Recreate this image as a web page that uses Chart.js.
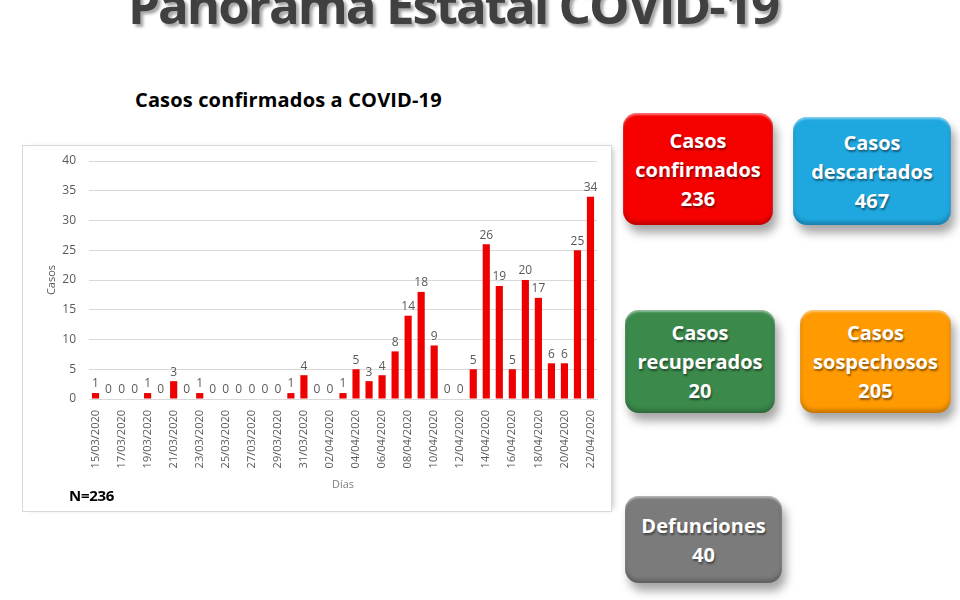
<!DOCTYPE html>
<html>
<head>
<meta charset="utf-8">
<script src="https://cdn.jsdelivr.net/npm/chart.js@4"></script>
<style>
  body { margin: 0; width: 960px; height: 600px; background: #fff; position: relative; overflow: hidden; font-family: "Open Sans", sans-serif; }
  #titulo { position: absolute; left: 0; width: 906px; top: -31px; text-align: center; font-size: 51px; font-weight: bold; color: #404040; letter-spacing: -2px; text-shadow: 3px 3px 3px rgba(0,0,0,0.35); white-space: nowrap; }
  #subtitulo { position: absolute; left: 135px; top: 86px; font-size: 20px; font-weight: bold; color: #000; letter-spacing: 0.15px; }
  #caja { position: absolute; left: 22px; top: 145px; width: 588px; height: 365px; border: 1px solid #d9d9d9; box-shadow: 4px 0 6px -3px rgba(0,0,0,0.25); }
  #grafica { display: block; }
  #n { position: absolute; left: 46px; top: 339px; font-size: 15px; font-weight: bold; letter-spacing: -0.3px; }
  .tarjeta { position: absolute; border-radius: 14px; color: #fff; font-weight: bold; font-size: 20px; line-height: 29px; text-align: center; display: flex; flex-direction: column; justify-content: center; text-shadow: 1px 2px 2px rgba(0,0,0,0.45); box-shadow: 4px 8px 10px rgba(0,0,0,0.35), inset 0 2px 2px rgba(255,255,255,0.45), inset 0 -3px 4px rgba(0,0,0,0.25); }
</style>
</head>
<body>
<div id="titulo">Panorama Estatal COVID-19</div>
<div id="subtitulo">Casos confirmados a COVID-19</div>
<div id="caja">
  <canvas id="grafica" width="588" height="365"></canvas>
  <div id="n">N=236</div>
</div>
<div id="tarjetas"></div>
<script>
const fechas = ['15/03/2020','16/03/2020','17/03/2020','18/03/2020','19/03/2020','20/03/2020','21/03/2020','22/03/2020','23/03/2020','24/03/2020','25/03/2020','26/03/2020','27/03/2020','28/03/2020','29/03/2020','30/03/2020','31/03/2020','01/04/2020','02/04/2020','03/04/2020','04/04/2020','05/04/2020','06/04/2020','07/04/2020','08/04/2020','09/04/2020','10/04/2020','11/04/2020','12/04/2020','13/04/2020','14/04/2020','15/04/2020','16/04/2020','17/04/2020','18/04/2020','19/04/2020','20/04/2020','21/04/2020','22/04/2020'];
const casos = [1,0,0,0,1,0,3,0,1,0,0,0,0,0,0,1,4,0,0,1,5,3,4,8,14,18,9,0,0,5,26,19,5,20,17,6,6,25,34];
const tarjetasNombres = ['Casos<br>confirmados', 'Casos<br>descartados', 'Casos<br>recuperados', 'Casos<br>sospechosos', 'Defunciones'];
const tarjetasValores = [236, 467, 20, 205, 40];
const tarjetasColores = ['#f70000', '#1fa8e0', '#3b8a4c', '#ff9a00', '#7b7b7b'];
const tarjetasPos = [[623,113,150,112],[793,117,158,108],[625,310,150,103],[800,310,151,103],[625,496,157,87]];

// tarjetas de resumen
const cont = document.getElementById('tarjetas');
tarjetasNombres.forEach((nombre, i) => {
  const d = document.createElement('div');
  const [x, y, w, h] = tarjetasPos[i];
  d.className = 'tarjeta';
  d.style.left = x + 'px'; d.style.top = y + 'px';
  d.style.width = w + 'px'; d.style.height = h + 'px';
  d.style.background = tarjetasColores[i];
  d.innerHTML = '<div>' + nombre + '<br>' + tarjetasValores[i] + '</div>';
  cont.appendChild(d);
});

// etiquetas de valor encima de cada barra
const etiquetas = {
  id: 'etiquetas',
  afterDatasetsDraw(chart) {
    const ctx = chart.ctx;
    const meta = chart.getDatasetMeta(0);
    ctx.save();
    ctx.font = '12px "Open Sans"';
    ctx.fillStyle = '#595959';
    ctx.textAlign = 'center';
    ctx.textBaseline = 'bottom';
    meta.data.forEach((bar, i) => {
      ctx.fillText(casos[i], bar.x, bar.y - 3);
    });
    ctx.restore();
  }
};

new Chart(document.getElementById('grafica'), {
  type: 'bar',
  data: {
    labels: fechas,
    datasets: [{
      data: casos,
      backgroundColor: '#ee0000',
      borderWidth: 0,
      barPercentage: 0.55,
      categoryPercentage: 1
    }]
  },
  options: {
    responsive: false,
    animation: false,
    layout: { padding: { left: 18, right: 14, top: 15, bottom: 16 } },
    plugins: { legend: { display: false }, tooltip: { enabled: false } },
    scales: {
      x: {
        grid: { display: false },
        border: { color: '#d9d9d9' },
        ticks: {
          autoSkip: false,
          maxRotation: 90,
          minRotation: 90,
          color: '#595959',
          font: { family: 'Open Sans', size: 11 },
          callback: function (v, i) { return i % 2 === 0 ? this.getLabelForValue(v) : ''; }
        },
        title: { display: true, text: 'Días', color: '#7f7f7f', font: { family: 'Open Sans', size: 11 }, padding: { top: 2 } },
        afterFit(scale) { scale.height = 96; scale.paddingTop = 0; }
      },
      y: {
        min: 0, max: 40,
        grid: { color: '#d9d9d9', drawTicks: false },
        border: { display: false },
        ticks: { stepSize: 5, color: '#595959', font: { family: 'Open Sans', size: 12 }, padding: 13 },
        title: { display: true, text: 'Casos', color: '#595959', font: { family: 'Open Sans', size: 11 } },
        afterFit(scale) { scale.width = 48; scale.paddingTop = 0; scale.paddingBottom = 0; }
      }
    }
  },
  plugins: [etiquetas]
});
</script>
</body>
</html>
